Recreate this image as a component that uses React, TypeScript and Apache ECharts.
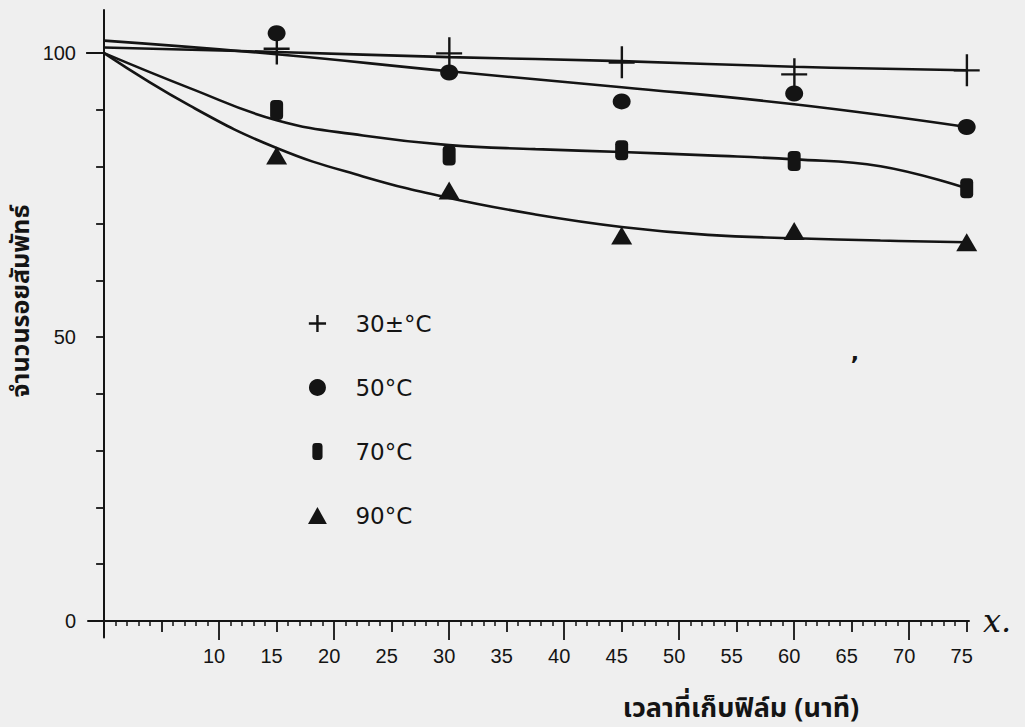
import React, { useEffect, useRef } from 'react';
import * as echarts from 'echarts';

// ---- data ----
const times = [15, 30, 45, 60, 75];
const s30 = [100.8, 100, 98.4, 96.3, 97];
const s50 = [103.5, 96.6, 91.5, 92.9, 87];
const s70 = [90, 82, 82.9, 81, 76.2];
const s90 = [82, 75.8, 67.9, 68.7, 66.7];

const fit30 = [[0, 101], [15, 100.2], [30, 99.3], [45, 98.6], [60, 97.6], [75, 97.0]];
const fit50 = [[0, 102.2], [15, 99.8], [30, 96.8], [45, 94.0], [60, 91.0], [75, 87.0]];
const fit70 = [[0, 100], [7.5, 93.8], [15, 88.2], [22.5, 85.5], [30, 83.8], [37.5, 83.1], [45, 82.6], [52.5, 82.0], [60, 81.3], [67.5, 80.1], [75, 76.2]];
const fit90 = [[0, 100], [7.5, 90.7], [15, 83.3], [22.5, 78.3], [30, 74.5], [37.5, 71.6], [45, 69.4], [52.5, 68.0], [60, 67.4], [67.5, 67.0], [75, 66.7]];

const seriesNames = ['30±°C', '50°C', '70°C', '90°C'];

const xLabelValues = [10, 15, 20, 25, 30, 35, 40, 45, 50, 55, 60, 65, 70, 75];
const xMediumTicks = [5, 15, 25, 35, 45, 55, 65, 75];
const xLongTicks = [10, 20, 30, 40, 50, 60, 70];
const xMinorTicks = [1, 2, 3, 4, 6, 7, 8, 9, 11, 12, 13, 14, 16, 17, 18, 19, 21, 22, 23, 24, 26, 27, 28, 29,
  31, 32, 33, 34, 36, 37, 38, 39, 41, 42, 43, 44, 46, 47, 48, 49, 51, 52, 53, 54, 56, 57, 58, 59,
  61, 62, 63, 64, 66, 67, 68, 69, 71, 72, 73, 74];
const yTickValues = [10, 20, 30, 40, 50, 60, 70, 80, 90];
const yLongTicks = [100];
const yLabelValues = [0, 50, 100];

const xTitle = 'เวลาที่เก็บฟิล์ม (นาที)';
const yTitle = 'จำนวนรอยสัมพัทธ์';

// ---- symbols ----
const plusSym = 'path://M12,0 L14.4,0 L14.4,32 L12,32 Z M0,15 L26,15 L26,17.4 L0,17.4 Z';
const plusLegend = 'path://M7.4,0 L9.8,0 L9.8,17 L7.4,17 Z M0,7.3 L17.2,7.3 L17.2,9.7 L0,9.7 Z';
const pillSym = 'path://M4,0 L8,0 Q12,0 12,4 L12,16 Q12,20 8,20 L4,20 Q0,20 0,16 L0,4 Q0,0 4,0 Z';
const triSym = 'path://M10,0 L20,18 L0,18 Z';

const INK = '#141414';
const THAI_FONT = "'Noto Sans Thai', 'Noto Sans Thai Looped', Loma, Garuda, 'Tlwg Typo', 'Noto Sans', sans-serif";
const NUM_FONT = "'Liberation Sans Narrow', 'Liberation Sans', Arial, sans-serif";

export default function App() {
  const ref = useRef<HTMLDivElement>(null);

  useEffect(() => {
    if (!ref.current) return;
    const chart = echarts.init(ref.current, undefined, { renderer: 'svg' });

    const zip = (vals: number[]) => times.map((t, i) => [t, vals[i]]);

    const xBase = {
      type: 'value' as const,
      min: -1.4,
      max: 75.2,
      position: 'bottom' as const,
      splitLine: { show: false },
    };
    const yBase = {
      type: 'value' as const,
      min: -2.9,
      max: 107.6,
      position: 'left' as const,
      splitLine: { show: false },
    };

    const lineStyle = { color: INK, width: 2.6 };
    const fitSeries = [fit30, fit50, fit70, fit90].map((d, i) => ({
      name: 'fit' + i,
      type: 'line' as const,
      data: d,
      smooth: 0.45,
      symbol: 'none',
      lineStyle,
      silent: true,
      z: 2,
    }));

    const scatterDefs = [
      { vals: s30, symbol: plusSym, size: [26, 32] },
      { vals: s50, symbol: 'circle', size: [18, 16] },
      { vals: s70, symbol: pillSym, size: [13, 20] },
      { vals: s90, symbol: triSym, size: [21, 18] },
    ];
    const scatterSeries = scatterDefs.map((d, i) => ({
      name: seriesNames[i],
      type: 'scatter' as const,
      data: zip(d.vals),
      symbol: d.symbol,
      symbolSize: d.size,
      itemStyle: { color: INK, opacity: 1 },
      z: 3,
    }));

    chart.setOption({
      animation: false,
      backgroundColor: '#efefef',
      grid: { left: 88, right: 56, top: 10, bottom: 89.5, containLabel: false, outerBoundsMode: 'none' },
      xAxis: [
        {
          ...xBase,
          axisLine: { show: true, onZero: true, onZeroAxisIndex: 0, lineStyle: { color: INK, width: 2 } },
          axisTick: { show: true, customValues: xMediumTicks, length: 11, lineStyle: { color: INK, width: 1.8 } },
          axisLabel: {
            show: true, customValues: xLabelValues, margin: 8, fontSize: 20, fontFamily: NUM_FONT,
            color: INK, padding: [0, 10, 0, 0],
          },
          name: 'x.',
          nameLocation: 'end',
          nameGap: 14,
          nameTextStyle: {
            fontFamily: "'DejaVu Serif', serif", fontStyle: 'italic', fontSize: 32, color: INK,
            padding: [10, 0, 0, 0],
          },
        },
        {
          ...xBase,
          axisLine: { show: false, onZero: true, onZeroAxisIndex: 0 },
          axisTick: { show: true, customValues: xLongTicks, length: 19, lineStyle: { color: INK, width: 1.8 } },
          axisLabel: { show: false },
        },
        {
          ...xBase,
          axisLine: { show: false, onZero: true, onZeroAxisIndex: 0 },
          axisTick: { show: true, customValues: xMinorTicks, length: 5, lineStyle: { color: INK, width: 1.5 } },
          axisLabel: { show: false },
        },
      ],
      yAxis: [
        {
          ...yBase,
          axisLine: { show: true, onZero: true, onZeroAxisIndex: 0, lineStyle: { color: INK, width: 2 } },
          axisTick: { show: true, customValues: yTickValues, length: 8, lineStyle: { color: INK, width: 1.8 } },
          axisLabel: {
            show: true, customValues: yLabelValues, margin: 12, fontSize: 20, fontFamily: NUM_FONT,
            color: INK, padding: [0, 0, 8, 0],
          },
        },
        {
          ...yBase,
          axisLine: { show: false, onZero: true, onZeroAxisIndex: 0 },
          axisTick: { show: true, customValues: yLongTicks, length: 18, lineStyle: { color: INK, width: 2 } },
          axisLabel: { show: false },
        },
      ],
      legend: {
        show: true,
        orient: 'vertical',
        left: 303,
        top: 307,
        itemWidth: 66,
        itemHeight: 17,
        itemGap: 41,
        selectedMode: false,
        symbolKeepAspect: true,
        data: [
          { name: seriesNames[0], icon: plusLegend },
          { name: seriesNames[1], icon: 'circle' },
          { name: seriesNames[2], icon: pillSym },
          { name: seriesNames[3], icon: triSym },
        ],
        textStyle: { fontSize: 23, lineHeight: 22, fontFamily: "'DejaVu Sans', sans-serif", color: INK },
      },
      graphic: [
        {
          type: 'text',
          x: 741,
          y: 708,
          style: {
            text: xTitle, align: 'center', verticalAlign: 'middle', fill: INK,
            font: `bold 27px ${THAI_FONT}`,
          },
        },
        {
          type: 'text',
          x: 21,
          y: 301,
          rotation: Math.PI / 2,
          style: {
            text: yTitle, align: 'center', verticalAlign: 'middle', fill: INK,
            font: `bold 25px ${THAI_FONT}`,
          },
        },
        {
          type: 'text',
          x: 855,
          y: 352,
          style: { text: ',', fill: INK, font: "bold 22px 'DejaVu Sans', sans-serif", align: 'center', verticalAlign: 'middle' },
        },
      ],
      series: [...fitSeries, ...scatterSeries],
    });

    return () => chart.dispose();
  }, []);

  return (
    <div
      ref={ref}
      style={{ position: 'absolute', left: 0, top: 0, width: 1025, height: 727 }}
    />
  );
}
